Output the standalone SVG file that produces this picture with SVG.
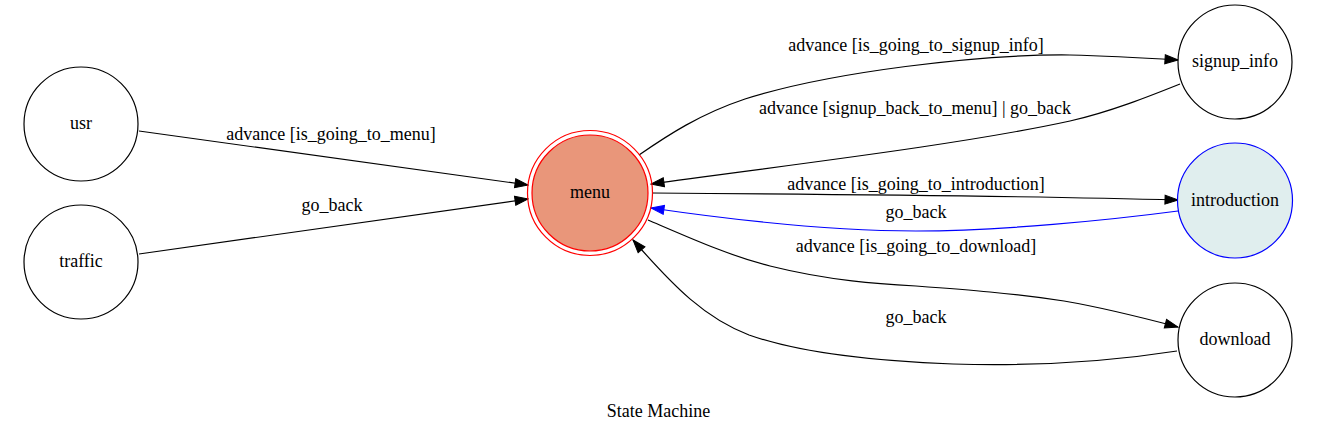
<svg xmlns="http://www.w3.org/2000/svg" width="1318" height="433" viewBox="0 0 1318 433">
<style>
text{font-family:"Liberation Serif","Times New Roman",serif;font-size:18px;fill:#000;text-anchor:middle}
.n{fill:#fff;stroke:#000;stroke-width:1.2}
.e{fill:none;stroke:#000;stroke-width:1.2}
.b{stroke:#0000ff}
</style>
<defs>
<marker id="ah" markerUnits="userSpaceOnUse" markerWidth="15" markerHeight="11" viewBox="0 0 15 11" refX="14" refY="5.5" orient="auto">
<path d="M1,1 L14,5.5 L1,10 z" fill="#000" stroke="#000"/>
</marker>
<marker id="ahb" markerUnits="userSpaceOnUse" markerWidth="15" markerHeight="11" viewBox="0 0 15 11" refX="14" refY="5.5" orient="auto">
<path d="M1,1 L14,5.5 L1,10 z" fill="#0000ff" stroke="#0000ff"/>
</marker>
</defs>
<rect width="1318" height="433" fill="#fff"/>
<g id="edges">
<path class="e" d="M139,131 L528,185" marker-end="url(#ah)"/>
<text x="331" y="140">advance [is_going_to_menu]</text>
<path class="e" d="M139,254 L528,199" marker-end="url(#ah)"/>
<text x="332" y="211">go_back</text>
<path class="e" d="M639,155 C668,135 700,114 745,99 C830,72 980,54 1070,55 C1110,56 1145,58 1178,60" marker-end="url(#ah)"/>
<text x="916" y="51">advance [is_going_to_signup_info]</text>
<path class="e" d="M1180,84 C1150,96 1110,112 1070,121 C960,145 780,166 651,184" marker-end="url(#ah)"/>
<text x="915" y="114">advance [signup_back_to_menu] | go_back</text>
<path class="e" d="M652,193 C800,194 1030,196 1178,200" marker-end="url(#ah)"/>
<text x="916" y="190">advance [is_going_to_introduction]</text>
<path class="e b" d="M1178,211 C1110,220 1000,231 916,231 C830,231 740,221 651,208" marker-end="url(#ahb)"/>
<text x="916" y="218">go_back</text>
<path class="e" d="M648,220 C690,238 730,256 770,266 C830,281 880,284 916,286 C970,290 1010,293 1064,301 C1105,308 1140,317 1178,327" marker-end="url(#ah)"/>
<text x="916" y="252">advance [is_going_to_download]</text>
<path class="e" d="M1177,351 C1100,363 1020,366 953,364 C870,361 800,353 749,335 C705,318 675,288 633,240" marker-end="url(#ah)"/>
<text x="916" y="323">go_back</text>
</g>
<g id="usr"><circle class="n" cx="81" cy="124" r="57"/><text x="81" y="129">usr</text></g>
<g id="traffic"><circle class="n" cx="81" cy="262" r="57"/><text x="81" y="267">traffic</text></g>
<g id="menu"><circle cx="590" cy="193" r="62.5" fill="none" stroke="#ff0000" stroke-width="1.2"/><circle cx="590" cy="193" r="58" fill="#e9967a" stroke="#ff0000" stroke-width="1.2"/><text x="590" y="198">menu</text></g>
<g id="signup_info"><circle class="n" cx="1235" cy="62" r="57"/><text x="1235" y="67">signup_info</text></g>
<g id="introduction"><circle cx="1235" cy="200.5" r="57.5" fill="#e0eeee" stroke="#0000ff" stroke-width="1.2"/><text x="1235" y="206">introduction</text></g>
<g id="download"><circle class="n" cx="1235" cy="340" r="57"/><text x="1235" y="345">download</text></g>
<text x="658.5" y="417">State Machine</text>
</svg>
